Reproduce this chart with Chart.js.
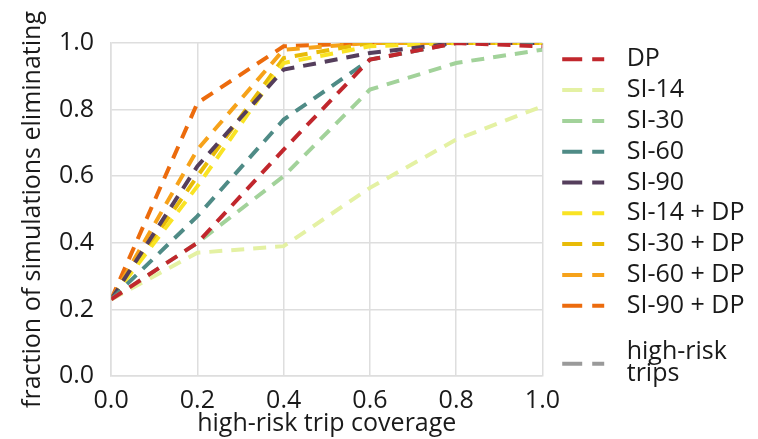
<!DOCTYPE html>
<html>
<head>
<meta charset="utf-8">
<script src="https://cdn.jsdelivr.net/npm/chart.js@4/dist/chart.umd.min.js"></script>
<style>
  html, body { margin: 0; padding: 0; background: #ffffff; }
  #wrap { width: 758px; height: 439px; }
</style>
</head>
<body>
<div id="wrap"><canvas id="c" width="758" height="439"></canvas></div>
<script>
// x positions (high-risk trip coverage)
const coverage = [0, 0.2, 0.4, 0.6, 0.8, 1.0];
const xTicks = [0, 0.2, 0.4, 0.6, 0.8, 1.0];
const yTicks = [0, 0.2, 0.4, 0.6, 0.8, 1.0];

// series values (fraction of simulations eliminating)
const dp      = [0.23, 0.40, 0.68, 0.95, 1.00, 0.99];
const si14    = [0.23, 0.37, 0.39, 0.565, 0.71, 0.81];
const si30    = [0.23, 0.40, 0.60, 0.86, 0.94, 0.98];
const si60    = [0.23, 0.48, 0.77, 0.95, 1.00, 1.00];
const si90    = [0.23, 0.63, 0.92, 0.97, 1.00, 1.00];
const si14dp  = [0.23, 0.57, 0.94, 0.99, 1.00, 1.00];
const si30dp  = [0.23, 0.60, 0.955, 1.00, 1.00, 1.00];
const si60dp  = [0.23, 0.68, 0.98, 1.00, 1.00, 1.00];
const si90dp  = [0.23, 0.82, 0.99, 1.00, 1.00, 1.00];
const highRisk = [];

const seriesNames = ['DP', 'SI-14', 'SI-30', 'SI-60', 'SI-90',
  'SI-14 + DP', 'SI-30 + DP', 'SI-60 + DP', 'SI-90 + DP', 'high-risk trips'];
const seriesValues = [dp, si14, si30, si60, si90, si14dp, si30dp, si60dp, si90dp, highRisk];
const seriesColors = ['#c1272d', '#e4f1a3', '#a2d29a', '#4f8b86', '#553e5c',
  '#f9e324', '#e8bb08', '#f6a21a', '#ec6b0d', '#9a9a9a'];
const highRiskLines = ['high-risk', 'trips'];

const FONT = '"Open Sans", "Noto Sans", sans-serif';
const FSIZE = 25;
const TXT = '#1a1a1a';

// legend sample geometry
const SAMPLE_W = 66, LEAD = 14;
const SAMPLE_DASH = [20, 10, 12, SAMPLE_W];
const SAMPLE_OFFSET = 20 + 10 + 12 + SAMPLE_W - LEAD;

const datasets = seriesNames.map((name, i) => ({
  label: name,
  data: seriesValues[i].map((v, j) => ({ x: coverage[j], y: v })),
  borderColor: seriesColors[i],
  backgroundColor: seriesColors[i],
  borderWidth: 4,
  borderDash: [13, 9],
  borderCapStyle: 'butt',
  pointRadius: 0,
  pointHoverRadius: 0,
  fill: false,
  tension: 0
}));

// draws the two-line "high-risk trips" legend entry below the regular legend
const highRiskLegend = {
  id: 'highRiskLegend',
  afterDraw(chart) {
    const lg = chart.legend;
    if (!lg || !lg.legendHitBoxes || !lg.legendHitBoxes.length) return;
    const hb = lg.legendHitBoxes[lg.legendHitBoxes.length - 1];
    const ds = chart.data.datasets[chart.data.datasets.length - 1];
    const cy = hb.top + hb.height / 2;
    const ctx = chart.ctx;
    ctx.save();
    ctx.strokeStyle = ds.borderColor;
    ctx.lineWidth = 4;
    ctx.setLineDash(SAMPLE_DASH);
    ctx.lineDashOffset = SAMPLE_OFFSET;
    ctx.beginPath();
    ctx.moveTo(hb.left, cy + 58);
    ctx.lineTo(hb.left + SAMPLE_W, cy + 58);
    ctx.stroke();
    ctx.setLineDash([]);
    ctx.fillStyle = TXT;
    ctx.font = FSIZE + 'px ' + FONT;
    ctx.textBaseline = 'middle';
    ctx.textAlign = 'left';
    const tx = hb.left + SAMPLE_W + FSIZE / 2;
    ctx.fillText(highRiskLines[0], tx, cy + 46);
    ctx.fillText(highRiskLines[1], tx, cy + 68.5);
    ctx.restore();
  }
};

function makeChart() {
  new Chart(document.getElementById('c'), {
    type: 'line',
    data: { datasets },
    plugins: [highRiskLegend],
    options: {
      responsive: false,
      animation: false,
      devicePixelRatio: 1,
      layout: { padding: { top: 41, right: 3.5, bottom: 0, left: 17.5 } },
      plugins: {
        tooltip: { enabled: false },
        legend: {
          position: 'right',
          align: 'start',
          maxWidth: 216,
          labels: {
            usePointStyle: true,
            pointStyle: 'line',
            pointStyleWidth: SAMPLE_W,
            boxHeight: 4,
            padding: 5.8,
            color: TXT,
            font: { family: FONT, size: FSIZE },
            generateLabels: (chart) => chart.data.datasets
              .map((ds, i) => ({
                text: ds.label,
                fillStyle: ds.borderColor,
                strokeStyle: ds.borderColor,
                lineWidth: 4,
                lineDash: SAMPLE_DASH,
                lineDashOffset: SAMPLE_OFFSET,
                lineCap: 'butt',
                pointStyle: 'line',
                hidden: false,
                datasetIndex: i,
                fontColor: TXT
              }))
              .filter(it => it.text !== 'high-risk trips')
          }
        }
      },
      scales: {
        x: {
          type: 'linear',
          min: 0, max: 1,
          afterBuildTicks: (axis) => { axis.ticks = xTicks.map(v => ({ value: v })); },
          ticks: {
            color: TXT,
            font: { family: FONT, size: FSIZE },
            padding: 10,
            maxRotation: 0,
            callback: (v) => Number(v).toFixed(1)
          },
          grid: { color: '#dedede', lineWidth: 1.5, drawTicks: false },
          border: { color: '#dedede', width: 1.5 },
          title: {
            display: true,
            text: 'high-risk trip coverage',
            color: TXT,
            font: { family: FONT, size: FSIZE },
            padding: { top: -17, bottom: 0 }
          }
        },
        y: {
          type: 'linear',
          min: 0, max: 1,
          afterBuildTicks: (axis) => { axis.ticks = yTicks.map(v => ({ value: v })); },
          afterFit: (scale) => { scale.paddingTop = 43; },
          ticks: {
            color: TXT,
            font: { family: FONT, size: FSIZE },
            padding: 17,
            callback: (v) => Number(v).toFixed(1)
          },
          grid: { color: '#dedede', lineWidth: 1.5, drawTicks: false },
          border: { color: '#dedede', width: 1.5 },
          title: {
            display: true,
            text: 'fraction of simulations eliminating',
            color: TXT,
            font: { family: FONT, size: FSIZE },
            padding: { top: 0, bottom: -5.5 }
          }
        }
      }
    }
  });
}

if (document.fonts && document.fonts.load) {
  document.fonts.load(FSIZE + 'px "Open Sans"').then(makeChart, makeChart);
} else {
  makeChart();
}
</script>
</body>
</html>
